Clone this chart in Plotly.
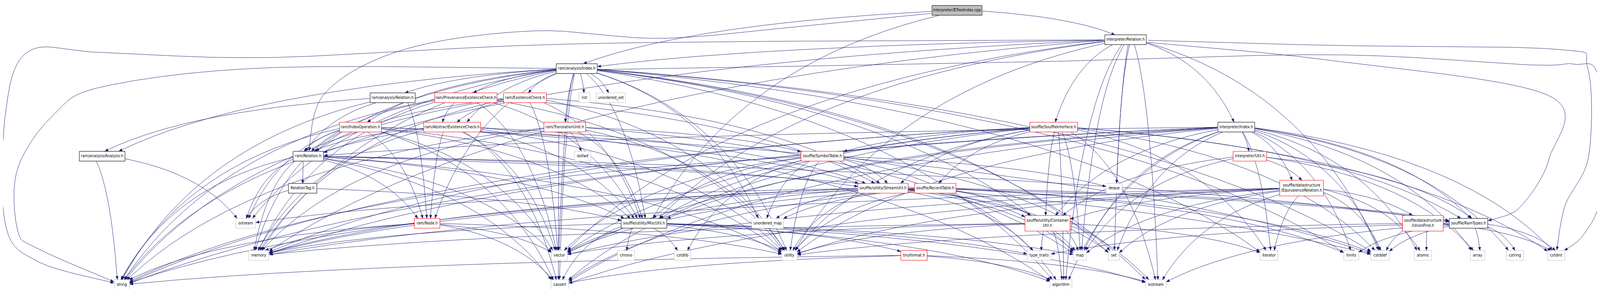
import numpy as np
import plotly.graph_objects as go

# ---------------- data: nodes ----------------
node_id = ["BTI", "IR", "RAI", "RAR", "RPEC", "REC", "list", "uset", "RIO", "RAEC", "RTU", "SI", "II",
           "RAA", "RR", "iosfwd", "ST", "IU", "RT", "SU", "RecT", "deque", "ER",
           "ostream", "RN", "MU", "umap", "CU", "UF", "RTy",
           "memory", "vector", "chrono", "cstdlib", "utility", "TF", "type_traits", "map", "set",
           "iterator", "limits", "cstddef", "atomic", "array", "cstring", "cstdint",
           "string", "cassert", "algorithm", "iostream"]
node_label = ["interpreter/BTreeIndex.cpp", "interpreter/Relation.h", "ram/analysis/Index.h",
              "ram/analysis/Relation.h", "ram/ProvenanceExistenceCheck.h", "ram/ExistenceCheck.h",
              "list", "unordered_set", "ram/IndexOperation.h", "ram/AbstractExistenceCheck.h",
              "ram/TranslationUnit.h", "souffle/SouffleInterface.h", "interpreter/Index.h",
              "ram/analysis/Analysis.h", "ram/Relation.h", "iosfwd", "souffle/SymbolTable.h",
              "interpreter/Util.h", "RelationTag.h", "souffle/utility/StreamUtil.h",
              "souffle/RecordTable.h", "deque", "souffle/datastructure<br>/EquivalenceRelation.h",
              "ostream", "ram/Node.h", "souffle/utility/MiscUtil.h", "unordered_map",
              "souffle/utility/Container<br>Util.h", "souffle/datastructure<br>/UnionFind.h",
              "souffle/RamTypes.h",
              "memory", "vector", "chrono", "cstdlib", "utility", "tinyformat.h", "type_traits",
              "map", "set", "iterator", "limits", "cstddef", "atomic", "array", "cstring", "cstdint",
              "string", "cassert", "algorithm", "iostream"]
node_kind = ["root", "doc", "doc", "doc", "trunc", "trunc", "ext", "ext", "trunc", "trunc", "trunc", "trunc", "doc",
             "doc", "doc", "ext", "trunc", "trunc", "doc", "trunc", "trunc", "ext", "trunc",
             "ext", "trunc", "doc", "ext", "trunc", "trunc", "doc",
             "ext", "ext", "ext", "ext", "ext", "trunc", "ext", "ext", "ext",
             "ext", "ext", "ext", "ext", "ext", "ext", "ext",
             "ext", "ext", "ext", "ext"]

# ---------------- data: include relations ----------------
inc_BTI = ["IR", "RAI", "RR", "MU"]
inc_IR = ["II", "RAI", "RR", "SI", "RTy", "MU", "deque", "map", "memory", "set", "string", "utility",
          "vector", "cstddef", "cstdint", "iostream", "algorithm"]
inc_RAI = ["RAA", "RAR", "RPEC", "REC", "RIO", "RAEC", "RTU", "RR", "RN", "MU", "algorithm", "cassert",
           "cstddef", "cstdint", "iostream", "iterator", "limits", "list", "map", "memory", "ostream",
           "set", "string", "umap", "uset", "utility", "vector"]
inc_RAR = ["RAA", "RN", "RR", "string"]
inc_RAA = ["ostream", "string"]
inc_RPEC = ["RAEC", "RR", "MU", "SU", "memory", "string", "utility", "vector"]
inc_REC = ["RAEC", "RR", "MU", "SU", "memory", "string", "utility", "vector"]
inc_RAEC = ["RN", "RR", "MU", "SU", "cassert", "memory", "string", "utility", "vector", "algorithm"]
inc_RIO = ["RR", "RN", "MU", "SU", "cassert", "cstddef", "memory", "ostream", "string", "utility", "vector"]
inc_RTU = ["ST", "MU", "cassert", "iosfwd", "map", "memory", "string", "utility"]
inc_RR = ["RT", "RN", "RTy", "MU", "SU", "cassert", "cstddef", "memory", "ostream", "string", "utility", "vector"]
inc_RT = ["MU", "ostream"]
inc_RN = ["cassert", "memory", "string", "utility", "vector"]
inc_SI = ["RecT", "ST", "RTy", "CU", "MU", "SU", "cassert", "cstddef", "cstdint", "iostream", "map",
          "memory", "string", "utility", "vector", "algorithm", "iterator"]
inc_ST = ["SU", "MU", "algorithm", "cstdlib", "deque", "iostream", "string", "umap", "utility", "vector"]
inc_SU = ["CU", "RTy", "map", "memory", "ostream", "set", "string", "type_traits", "umap", "utility", "vector"]
inc_RecT = ["CU", "RTy", "cassert", "cstddef", "limits", "map", "memory", "umap", "utility", "vector"]
inc_MU = ["TF", "algorithm", "cassert", "chrono", "cstdlib", "iostream", "map", "memory", "type_traits", "utility"]
inc_CU = ["type_traits", "algorithm", "iterator", "map", "memory", "set", "utility", "vector"]
inc_TF = ["algorithm", "cassert", "iostream", "string"]
inc_II = ["IU", "ER", "RR", "RTy", "CU", "MU", "algorithm", "array", "atomic", "cassert", "cstddef",
          "cstdint", "cstring", "iterator", "limits", "map", "memory", "set", "string", "utility", "vector"]
inc_IU = ["ER", "RTy", "CU", "array", "map"]
inc_ER = ["UF", "CU", "atomic", "cassert", "cstddef", "iostream", "iterator", "map", "memory", "set",
          "utility", "vector"]
inc_UF = ["atomic", "cstddef", "cstdint", "utility"]
inc_RTy = ["array", "cstdint", "cstring", "cstddef", "limits", "type_traits", "iostream"]

includes = {"BTI": inc_BTI, "IR": inc_IR, "RAI": inc_RAI, "RAR": inc_RAR, "RAA": inc_RAA,
            "RPEC": inc_RPEC, "REC": inc_REC, "RAEC": inc_RAEC, "RIO": inc_RIO, "RTU": inc_RTU,
            "RR": inc_RR, "RT": inc_RT, "RN": inc_RN, "SI": inc_SI, "ST": inc_ST, "SU": inc_SU,
            "RecT": inc_RecT, "MU": inc_MU, "CU": inc_CU, "TF": inc_TF, "II": inc_II, "IU": inc_IU,
            "ER": inc_ER, "UF": inc_UF, "RTy": inc_RTy}

# ---------------- layout (centre x, centre y, width, height) in graph units ----------------
H1, H2 = 25, 40
POS = {
    "BTI": (3704, 18.5, 194, H1),
    "IR": (4358.5, 93.5, 161, H1),
    "RAI": (2227.5, 167.5, 159, H1),
    "RAR": (1512.5, 242, 175, H1), "RPEC": (1797, 242, 242, H1), "REC": (2026.5, 242, 167, H1),
    "list": (2257.5, 242, 43, H1), "uset": (2360, 242, 114, H1),
    "RIO": (1387.5, 317, 163, H1), "RAEC": (1743.5, 317, 221, H1), "RTU": (2181, 317, 162, H1),
    "SI": (4079.5, 317, 185, H1), "II": (4788.5, 317, 143, H1),
    "RAA": (384.5, 391.5, 177, H1), "RR": (1185, 391.5, 118, H1), "iosfwd": (2250, 391.5, 64, H1),
    "ST": (3181, 391.5, 166, H1), "IU": (4841, 391.5, 130, H1),
    "RT": (1163, 473.5, 110, H1), "SU": (3416.5, 473.5, 195, H1), "RecT": (3619.5, 473.5, 161, H1),
    "deque": (4314, 473.5, 62, H1), "ER": (5042, 473, 170, H2),
    "ostream": (942, 563, 76, H1), "RN": (1646.5, 563, 99, H1), "MU": (2488.5, 563, 177, H1),
    "umap": (2968.5, 563, 123, H1), "CU": (4055.5, 563, 175, H2), "UF": (5513, 563, 158, H2),
    "RTy": (5690.5, 563, 149, H1),
    "memory": (992.5, 645, 77, H1), "vector": (2160, 645, 62, H1), "chrono": (2419, 645, 66, H1),
    "cstdlib": (2638, 645, 64, H1), "utility": (3053, 645, 60, H1), "TF": (3537, 645, 102, H1),
    "type_traits": (4023, 645, 92, H1), "map": (4181, 645, 50, H1), "set": (4313, 645, 42, H1),
    "iterator": (4915.5, 645, 69, H1), "limits": (5235, 645, 58, H1), "cstddef": (5347, 645, 72, H1),
    "atomic": (5513.5, 645, 67, H1), "array": (5725.5, 645, 55, H1), "cstring": (5870.5, 645, 67, H1),
    "cstdint": (6030.5, 645, 67, H1),
    "string": (461, 720, 58, H1), "cassert": (2161.5, 720, 69, H1), "algorithm": (4107.5, 720, 85, H1),
    "iostream": (4476, 720, 80, H1),
}

# routing points for the long edges that dot sends around the outside of the graph
ROUTES = {
    ("IR", "string"): [(4278, 94), (3100, 97), (2070, 107), (1040, 139), (398, 127), (100, 123),
                       (9, 283), (9, 566), (133, 660), (420, 714)],
    ("RAI", "string"): [(2148, 167), (1040, 165), (398, 212), (199, 283), (56, 424), (56, 580),
                        (133, 627), (425, 711)],
    ("BTI", "RR"): [(3607, 26), (3100, 59), (2557, 90), (2060, 71), (1560, 118), (1250, 230)],
    ("IR", "cstdint"): [(4439, 95), (5150, 108), (6031, 118), (6153, 165), (6157, 391), (6065, 518)],
    ("RAI", "cstdint"): [(2307, 170), (4000, 150), (5150, 132), (5930, 158), (6099, 156), (6194, 189),
                         (6208, 471), (6140, 590)],
    ("IR", "RTy"): [(4439, 100), (5150, 146), (5997, 235), (6004, 396), (5896, 518), (5790, 552)],
}

GRAPH_W, GRAPH_H = 6213, 739
FIG_W, FIG_H = 4096, 739          # the browser window is 4096 CSS px wide
SX = FIG_W / GRAPH_W              # horizontal px per graph unit

STYLE = {"root": ("#bfbfbf", "#404040", 1.4),
         "doc": ("#ffffff", "#404040", 1.4),
         "trunc": ("#ffffff", "#ff0000", 1.1),
         "ext": ("#ffffff", "#c4c4c4", 1.1)}
EDGE_COLOR = "#191970"
ARROW_LEN, ARROW_HW = 8.5, 3.2
FONT = dict(family="DejaVu Sans Condensed, DejaVu Sans", size=10.2, color="black")

# ---------------- edge geometry (computed in screen pixels) ----------------
edges = [(s, t) for s, lst in includes.items() for t in lst]


def pxbox(n):
    cx, cy, w, h = POS[n]
    return cx * SX, cy, w * SX, h


out_order = {s: {t: i for i, t in enumerate(sorted(lst, key=lambda t: POS[t][0]))}
             for s, lst in includes.items()}
in_lists = {}
for s, t in edges:
    in_lists.setdefault(t, []).append(s)
in_order = {t: {s: i for i, s in enumerate(sorted(lst, key=lambda s: POS[s][0]))}
            for t, lst in in_lists.items()}


def inside(box, x, y):
    cx, cy, w, h = box
    return (np.abs(x - cx) <= w / 2) & (np.abs(y - cy) <= h / 2)


def bez(p, t):
    t = t[:, None]
    return ((1 - t) ** 3) * p[0] + 3 * ((1 - t) ** 2) * t * p[1] + 3 * (1 - t) * t * t * p[2] + t ** 3 * p[3]


def catmull(points, n=60):
    P = np.vstack([points[0], points, points[-1]])
    out = []
    t = np.linspace(0, 1, n, endpoint=False)[:, None]
    for i in range(1, len(P) - 2):
        p0, p1, p2, p3 = P[i - 1], P[i], P[i + 1], P[i + 2]
        m1 = (p2 - p0) / 2
        m2 = (p3 - p1) / 2
        h00 = 2 * t ** 3 - 3 * t ** 2 + 1
        h10 = t ** 3 - 2 * t ** 2 + t
        h01 = -2 * t ** 3 + 3 * t ** 2
        h11 = t ** 3 - t ** 2
        out.append(h00 * p1 + h10 * m1 + h01 * p2 + h11 * m2)
    out.append(P[-2][None, :])
    return np.vstack(out)


lx, ly, ax, ay = [], [], [], []
ts = np.linspace(0, 1, 800)
for s, t in edges:
    S, T = pxbox(s), pxbox(t)
    if (s, t) in ROUTES:
        way = np.array([[x * SX, y] for x, y in ROUTES[(s, t)]])
        pts = catmull(np.vstack([[S[0], S[1]], way, [T[0], T[1]]]))
    else:
        offs = ((out_order[s][t] + 0.5) / len(includes[s]) - 0.5) * S[2] * 0.75
        offt = ((in_order[t][s] + 0.5) / len(in_lists[t]) - 0.5) * T[2] * 0.6
        p0 = np.array([S[0] + offs, S[1]])
        p3 = np.array([T[0] + offt, T[1]])
        dx, dy = p3 - p0
        p1 = p0 + np.array([0.4 * dx, 0.12 * dy])
        p2 = p3 - np.array([0.22 * dx, 0.6 * dy])
        pts = bez(np.array([p0, p1, p2, p3]), ts)
    outS = ~inside(S, pts[:, 0], pts[:, 1])
    outT = ~inside(T, pts[:, 0], pts[:, 1])
    i0 = int(np.argmax(outS))
    i1 = len(pts) - 1 - int(np.argmax(outT[::-1]))
    seg = pts[i0:i1 + 1]
    tip = seg[-1]
    dists = np.hypot(seg[:, 0] - tip[0], seg[:, 1] - tip[1])
    k = np.where(dists >= ARROW_LEN)[0]
    kb = k[-1] if len(k) else 0
    d = tip - seg[kb]
    d = d / (np.hypot(*d) or 1.0)
    base = tip - d * ARROW_LEN
    line = np.vstack([seg[:kb + 1], base])
    lx.extend((line[:, 0] / SX).tolist() + [None])
    ly.extend(line[:, 1].tolist() + [None])
    perp = np.array([-d[1], d[0]])
    c1 = base + perp * ARROW_HW
    c2 = base - perp * ARROW_HW
    ax.extend([tip[0] / SX, c1[0] / SX, c2[0] / SX, tip[0] / SX, None])
    ay.extend([tip[1], c1[1], c2[1], tip[1], None])

fig = go.Figure()
fig.add_trace(go.Scatter(x=lx, y=ly, mode="lines", line=dict(color=EDGE_COLOR, width=0.9),
                         hoverinfo="skip", showlegend=False))
fig.add_trace(go.Scatter(x=ax, y=ay, mode="lines", fill="toself", fillcolor=EDGE_COLOR,
                         line=dict(color=EDGE_COLOR, width=0.6), hoverinfo="skip", showlegend=False))

for kind, (fill, border, bw) in STYLE.items():
    bx, by = [], []
    for nid, kd in zip(node_id, node_kind):
        if kd != kind:
            continue
        cx, cy, w, h = POS[nid]
        bx.extend([cx - w / 2, cx + w / 2, cx + w / 2, cx - w / 2, cx - w / 2, None])
        by.extend([cy - h / 2, cy - h / 2, cy + h / 2, cy + h / 2, cy - h / 2, None])
    fig.add_trace(go.Scatter(x=bx, y=by, mode="lines", fill="toself", fillcolor=fill,
                             line=dict(color=border, width=bw), hoverinfo="skip", showlegend=False))

fig.add_trace(go.Scatter(x=[POS[n][0] for n in node_id], y=[POS[n][1] for n in node_id],
                         mode="text", text=node_label, textposition="middle center",
                         textfont=FONT, hoverinfo="skip", showlegend=False))

fig.update_layout(width=FIG_W, height=FIG_H, margin=dict(l=0, r=0, t=0, b=0),
                  paper_bgcolor="white", plot_bgcolor="white",
                  xaxis=dict(range=[0, GRAPH_W], visible=False, fixedrange=True),
                  yaxis=dict(range=[GRAPH_H, 0], visible=False, fixedrange=True))
fig.write_html("out.html")
